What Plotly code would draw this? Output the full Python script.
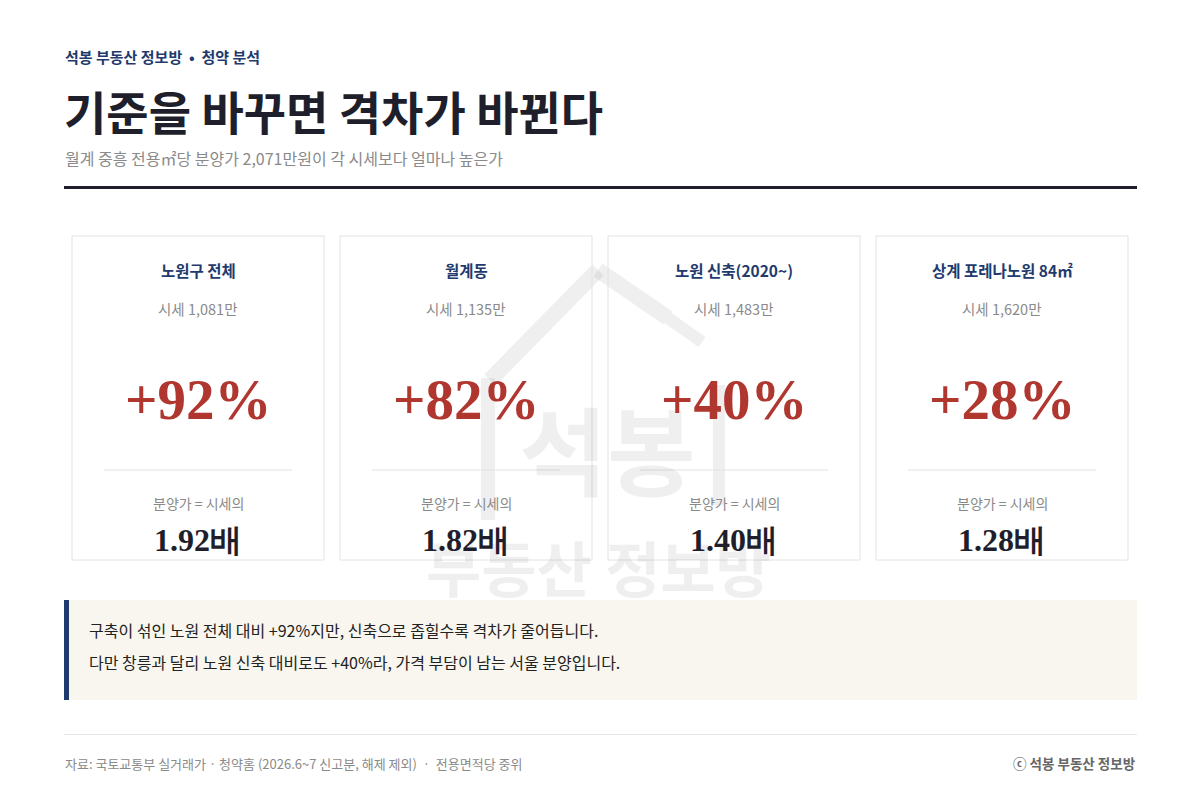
import plotly.graph_objects as go

# ---------------- data ----------------
brand = "석봉 부동산 정보방"
section = "청약 분석"
title = "기준을 바꾸면 격차가 바뀐다"
subtitle = "월계 중흥 전용㎡당 분양가 2,071만원이 각 시세보다 얼마나 높은가"
categories = ["노원구 전체", "월계동", "노원 신축(2020~)", "상계 포레나노원 84㎡"]
market_price = ["1,081", "1,135", "1,483", "1,620"]   # 만원 / ㎡
premium_pct = [92, 82, 40, 28]
ratio = [1.92, 1.82, 1.40, 1.28]
note_lines = [
    "구축이 섞인 노원 전체 대비 +92%지만, 신축으로 좁힐수록 격차가 줄어듭니다.",
    "다만 창릉과 달리 노원 신축 대비로도 +40%라, 가격 부담이 남는 서울 분양입니다.",
]
source = "자료: 국토교통부 실거래가 · 청약홈 (2026.6~7 신고분, 해제 제외)  ·  전용면적당 중위"
credit = "ⓒ 석봉 부동산 정보방"

# ---------------- style ----------------
W, H = 1200, 800
OFF = 8  # page margin of the html body
SANS = "Noto Sans CJK KR"
SERIF = "Liberation Serif, DejaVu Serif, serif"
NAVY = "#1f3b6e"
RED = "#b0372f"
DARK = "#1f1f2b"
GRAY = "#8a8a8a"


def px(x):
    return (x - OFF) / W


def py(y):
    return 1 - (y - OFF) / H


fig = go.Figure()
shapes = []
ann = []


def text(x, y, s, size, color, family=SANS, anchor="left", bold=False):
    if bold:
        s = "<b>" + s + "</b>"
    ann.append(dict(x=px(x), y=py(y), xref="paper", yref="paper", text=s,
                    showarrow=False, xanchor=anchor, yanchor="middle",
                    borderpad=0,
                    font=dict(size=size, color=color, family=family)))


def line(x0, y0, x1, y1, color, width):
    shapes.append(dict(type="line", xref="paper", yref="paper",
                       x0=px(x0), y0=py(y0), x1=px(x1), y1=py(y1),
                       line=dict(color=color, width=width), layer="below"))


def rect(x0, y0, x1, y1, fill, border=None, bw=1):
    shapes.append(dict(type="rect", xref="paper", yref="paper",
                       x0=px(x0), y0=py(y0), x1=px(x1), y1=py(y1),
                       fillcolor=fill,
                       line=dict(color=border or "rgba(0,0,0,0)", width=bw if border else 0),
                       layer="below"))


# ---------------- watermark ----------------
WM = "rgba(120,120,120,0.12)"
line(490, 380, 598, 270, WM, 16)
line(598, 270, 668, 318, WM, 16)
line(668, 318, 702, 342, WM, 12)
line(488, 378, 488, 520, WM, 14)
line(719, 385, 719, 505, WM, 12)
text(607, 446, "<b>석봉</b>", 96, WM, anchor="center")
text(598, 565, "<b>부동산 정보방</b>", 60, WM, anchor="center")

# ---------------- header ----------------
text(64, 56, brand + "  •  " + section, 15, NAVY, bold=True)
text(63, 110, title, 46, DARK, bold=True)
text(64, 158, subtitle, 16, GRAY)
line(64, 187.5, 1137, 187.5, DARK, 3)

# ---------------- cards ----------------
card_x = [72, 340, 608, 876]
card_w = 252
for i, cat in enumerate(categories):
    x0 = card_x[i]
    cx = x0 + card_w / 2
    rect(x0, 236, x0 + card_w, 560, "rgba(0,0,0,0)", "#e2e2e2", 1)
    text(cx, 270, cat, 15.5, NAVY, anchor="center", bold=True)
    text(cx, 308, "시세 " + market_price[i] + "만", 14.5, GRAY, anchor="center")
    text(cx, 399, "+%d%%" % premium_pct[i], 57, RED, family=SERIF, anchor="center", bold=True)
    line(x0 + 32, 470, x0 + card_w - 32, 470, "#e2e2e2", 1)
    text(cx, 503, "분양가 = 시세의", 14, GRAY, anchor="center")
    text(cx, 540, "%.2f배" % ratio[i], 32, DARK, family=SERIF, anchor="center", bold=True)

# ---------------- note box ----------------
rect(64, 600, 1137, 700, "#f8f6ee")
rect(64, 600, 69, 700, NAVY)
text(88, 630, note_lines[0], 16, "#222222")
text(88, 662, note_lines[1], 16, "#222222")

# ---------------- footer ----------------
line(64, 734.5, 1137, 734.5, "#e6e6e6", 1)
text(64, 763, source, 13, GRAY)
text(1137, 763, credit, 13.5, "#666666", anchor="right", bold=True)

fig.update_layout(
    width=W, height=H,
    margin=dict(l=0, r=0, t=0, b=0),
    paper_bgcolor="white", plot_bgcolor="white",
    xaxis=dict(visible=False, range=[0, 1]),
    yaxis=dict(visible=False, range=[0, 1]),
    shapes=shapes, annotations=ann,
    showlegend=False,
)

fig.write_html("out.html", config={"displayModeBar": False})
